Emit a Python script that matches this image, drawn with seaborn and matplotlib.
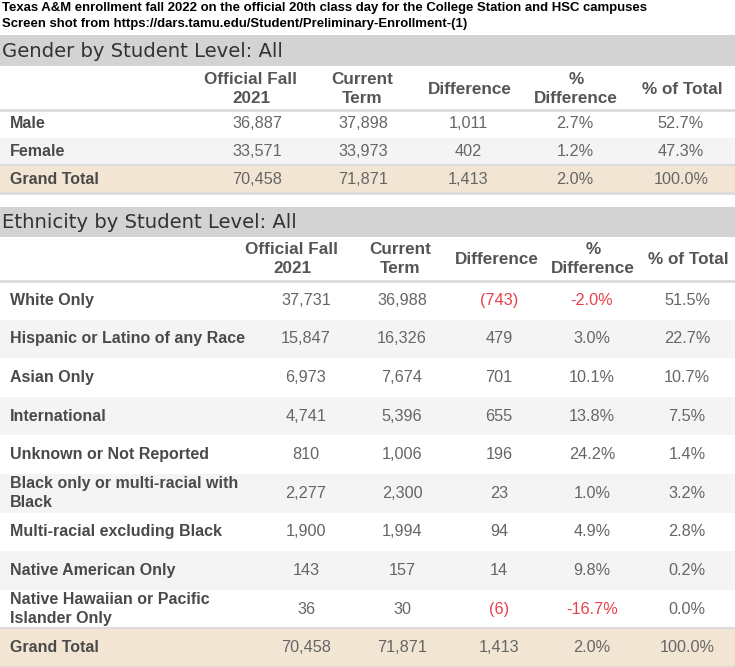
import numpy as np
import pandas as pd
import matplotlib
matplotlib.use("Agg")
import matplotlib.pyplot as plt
from matplotlib import font_manager
from matplotlib.colors import ListedColormap
import seaborn as sns

# ---------------- data ----------------
title_lines = [
    "Texas A&M enrollment fall 2022 on the official 20th class day for the College Station and HSC campuses",
    "Screen shot from https://dars.tamu.edu/Student/Preliminary-Enrollment-(1)",
]
columns = ["Official Fall\n2021", "Current\nTerm", "Difference", "%\nDifference", "% of Total"]

gender_title = "Gender by Student Level: All"
gender_labels = ["Male", "Female", "Grand Total"]
gender_fall2021 = [36887, 33571, 70458]
gender_current = [37898, 33973, 71871]
gender_diff = [1011, 402, 1413]
gender_pct_diff = [2.7, 1.2, 2.0]
gender_pct_total = [52.7, 47.3, 100.0]

eth_title = "Ethnicity by Student Level: All"
eth_labels = ["White Only", "Hispanic or Latino of any Race", "Asian Only", "International",
              "Unknown or Not Reported", "Black only or multi-racial with\nBlack",
              "Multi-racial excluding Black", "Native American Only",
              "Native Hawaiian or Pacific\nIslander Only", "Grand Total"]
eth_fall2021 = [37731, 15847, 6973, 4741, 810, 2277, 1900, 143, 36, 70458]
eth_current = [36988, 16326, 7674, 5396, 1006, 2300, 1994, 157, 30, 71871]
eth_diff = [-743, 479, 701, 655, 196, 23, 94, 14, -6, 1413]
eth_pct_diff = [-2.0, 3.0, 10.1, 13.8, 24.2, 1.0, 4.9, 9.8, -16.7, 2.0]
eth_pct_total = [51.5, 22.7, 10.7, 7.5, 1.4, 3.2, 2.8, 0.2, 0.0, 100.0]

# ---------------- style ----------------
sns.set_theme(style="white")
names = {f.name for f in font_manager.fontManager.ttflist}
narrow = "Liberation Sans Narrow" if "Liberation Sans Narrow" in names else "Liberation Sans"
body_font = "Liberation Sans"
sect_font = "DejaVu Sans"
plt.rcParams["font.family"] = [body_font, "DejaVu Sans"]

W, H = 735, 667
C_BAR = "#d3d3d3"
C_ALT = "#f4f4f4"
C_TAN = "#f3e5d3"
C_LINE = "#dcdcdc"
C_HDR = "#555555"
C_LAB = "#4a4a4a"
C_NUM = "#666666"
C_RED = "#e8404a"

fig = plt.figure(figsize=(W / 100, H / 100), dpi=100)
bg = fig.add_axes([0, 0, 1, 1])
bg.set_xlim(0, W)
bg.set_ylim(H, 0)
bg.axis("off")

# title
for i, line in enumerate(title_lines):
    bg.text(2, 7.5 + 17 * i, line, fontsize=9.45, fontweight="bold", color="black",
            family=[narrow, "DejaVu Sans"], va="center", ha="left")


def fmt_int(v):
    return f"({abs(v):,})" if v < 0 else f"{v:,}"


def fmt_pct(v):
    return f"{v:.1f}%"


def draw_table(top_bar, bar_h, hdr_h, row_h, title, labels, cols_vals, hdr_x, val_x, hdr_dy):
    # section bar
    bg.axhspan(top_bar, top_bar + bar_h, color=C_BAR, lw=0)
    bg.text(2, top_bar + bar_h / 2 + 1, title, fontsize=14.1, color="#333333",
            family=[sect_font], va="center", ha="left")
    # header row
    hdr_top = top_bar + bar_h
    for x, c in zip(hdr_x, columns):
        bg.text(x, hdr_top + hdr_h / 2 + hdr_dy, c, fontsize=12.3, fontweight="bold",
                color=C_HDR, ha="center", va="center", linespacing=1.4, multialignment="center")
    # body as heatmap of row kinds
    n = len(labels)
    body_top = hdr_top + hdr_h
    body_h = n * row_h
    ax = fig.add_axes([0, 1 - (body_top + body_h) / H, 1, body_h / H])
    kinds = np.array([[i % 2] for i in range(n - 1)] + [[2]])
    sns.heatmap(pd.DataFrame(kinds), ax=ax, cmap=ListedColormap(["white", C_ALT, C_TAN]),
                vmin=-0.5, vmax=2.5, cbar=False, xticklabels=False, yticklabels=False)
    ax.set_xlim(0, 1)
    ax.axis("off")
    for yb, lw in [(0, 2.0), (n - 1, 1.5), (n, 2.0)]:
        ax.axhline(yb, color=C_LINE, lw=lw, clip_on=False)
    for i, lab in enumerate(labels):
        yc = i + 0.5
        ax.text(10 / W, yc, lab, fontsize=11.5, fontweight="bold", color=C_LAB,
                ha="left", va="center", linespacing=1.35)
        for j, (vals, kind) in enumerate(cols_vals):
            v = vals[i]
            s = fmt_int(v) if kind == "int" else fmt_pct(v)
            red = v < 0 and j in (2, 3)
            ax.text(val_x[j] / W, yc, s, fontsize=11.7, color=C_RED if red else C_NUM,
                    ha="center", va="center")


draw_table(35, 31, 44, 83 / 3, gender_title, gender_labels,
           [(gender_fall2021, "int"), (gender_current, "int"), (gender_diff, "int"),
            (gender_pct_diff, "pct"), (gender_pct_total, "pct")],
           [251, 362, 470, 576, 682], [257, 363, 468, 575, 681], 1)

draw_table(207, 30, 44, 386 / 10, eth_title, eth_labels,
           [(eth_fall2021, "int"), (eth_current, "int"), (eth_diff, "int"),
            (eth_pct_diff, "pct"), (eth_pct_total, "pct")],
           [292, 400, 497, 593, 688], [306, 402, 499, 592, 687], 0)

fig.savefig("out.png", dpi=100)
